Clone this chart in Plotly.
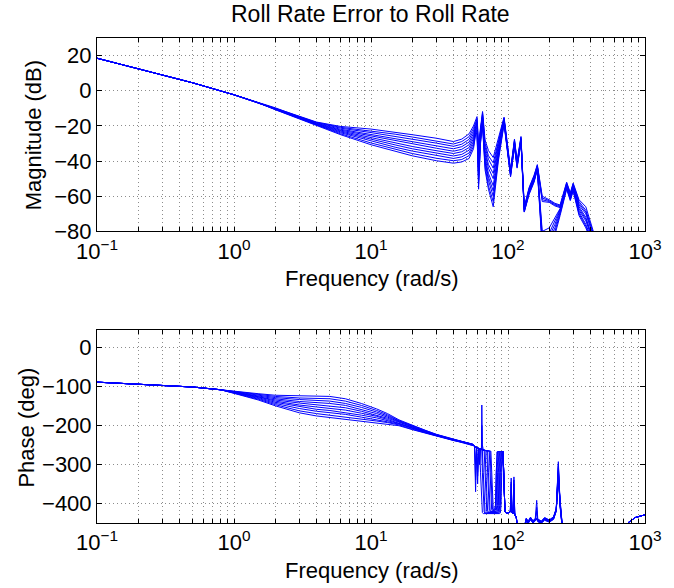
import plotly.graph_objects as go

# ---------------- data ----------------
DECADE_LABELS = ["10<sup>\u22121</sup>", "10<sup>0</sup>", "10<sup>1</sup>", "10<sup>2</sup>", "10<sup>3</sup>"]
DECADES = [0.1, 1, 10, 100, 1000]
MAG_TICKS = [-80, -60, -40, -20, 0, 20]
PH_TICKS = [-400, -300, -200, -100, 0]

# Magnitude (dB)
MAG_HEAD_F = [0.1, 0.2, 0.5, 1.0, 1.5]
MAG_HEAD = [18.5, 12.5, 4.5, -2.3, -6.8]
MAG_F = [2, 3, 4, 6, 10, 15, 20, 30, 40, 46, 52, 56,
         58, 59.4, 61, 63, 65.2, 68, 72, 78, 85, 93.6,
         99, 104.4, 111.5, 116.5, 124.4, 131.4, 142.6, 155, 163.7, 177.8,
         200, 220, 240, 268, 285, 299, 330, 370, 416, 460]
MAG = [
    [-9.6, -14.5, -17.8, -20.3, -21.8, -23.5, -25.0, -27.0, -28.9, -27.5, -24.5, -20.0,
     -17, -14.7, -30, -20, -11.8, -28, -34, -38, -27, -15,
     -30, -45, -27.5, -40, -26, -66, -55, -48, -42, -60,
     -62, -64, -65, -52, -58, -52.5, -62, -66, -79, -90],
    [-9.7, -14.7, -18.0, -20.8, -22.8, -24.7, -26.3, -28.4, -30.3, -28.9, -26.1, -21.4,
     -18, -16, -33, -21, -12.5, -30, -37, -41, -28.5, -15.5,
     -31, -45.5, -28, -40.5, -26.5, -66.5, -55.5, -48.5, -42.5, -61,
     -62.5, -64.5, -65.5, -52.5, -58.5, -53, -63, -68, -80, -91],
    [-9.9, -14.8, -18.2, -21.3, -23.8, -25.9, -27.7, -29.8, -31.6, -30.4, -27.6, -22.9,
     -19, -17, -36, -22, -13.5, -32, -39, -44, -30, -16,
     -31.5, -46, -28.5, -41, -27, -67, -56, -49, -43, -62,
     -63, -65, -66, -53, -59, -53.5, -64, -69, -81, -92],
    [-10.0, -15.0, -18.5, -21.9, -24.8, -27.2, -29.0, -31.3, -33.0, -31.8, -29.2, -24.3,
     -19.5, -18, -39, -23.5, -14.5, -34, -42, -47, -31.5, -16.5,
     -32, -46.5, -29, -41.5, -27.5, -67, -56.5, -49.5, -43, -63,
     -63.5, -65.5, -66.5, -53.5, -59.5, -54, -65, -70, -82, -93],
    [-10.1, -15.2, -18.7, -22.4, -25.8, -28.4, -30.3, -32.7, -34.4, -33.3, -30.7, -25.8,
     -20.5, -19, -42, -24.5, -15.5, -36, -44, -50, -33, -17,
     -33, -47, -29.5, -42, -27.5, -67.5, -57, -50, -43.5, -80,
     -78, -72, -67, -54, -60, -54.5, -66, -72, -83, -94],
    [-10.3, -15.3, -18.9, -22.9, -26.7, -29.6, -31.7, -34.1, -35.7, -34.7, -32.3, -27.2,
     -21.5, -20, -45, -25.5, -16.5, -38, -47, -54, -34.5, -17,
     -33.5, -47, -30, -42, -28, -68, -57, -50.5, -44, -82,
     -81, -74, -67.5, -54.5, -60.5, -55, -67, -73, -84, -95],
    [-10.4, -15.5, -19.1, -23.4, -27.7, -30.8, -33.0, -35.5, -37.1, -36.2, -33.8, -28.7,
     -22, -21, -48, -26.5, -17.5, -40, -49, -57, -36, -17.5,
     -34, -47.5, -30.5, -42.5, -28.5, -68, -57.5, -51, -44, -84,
     -83, -76, -68, -55, -61, -55.5, -68, -74, -85, -96],
    [-10.5, -15.7, -19.4, -23.9, -28.7, -32.1, -34.3, -37.0, -38.5, -37.6, -35.4, -30.1,
     -23, -22, -51, -27.5, -18, -41, -51, -60, -37, -18,
     -34.5, -48, -31, -43, -28.5, -68.5, -58, -51, -44.5, -86,
     -85, -78, -69, -55, -61.5, -56, -69, -76, -86, -97],
    [-10.7, -15.8, -19.6, -24.5, -29.7, -33.3, -35.7, -38.4, -39.8, -39.1, -36.9, -31.6,
     -24, -23, -53, -29, -19, -43, -54, -63, -38.5, -18.5,
     -35, -48.5, -31.5, -43.5, -29, -69, -58.5, -51.5, -44.5, -88,
     -86, -80, -70, -55.5, -62, -56.5, -70, -77, -87, -98],
    [-10.8, -16.0, -19.8, -25.0, -30.7, -34.5, -37.0, -39.8, -41.2, -40.5, -38.5, -33.0,
     -25, -24, -56, -30, -20, -45, -56, -66, -40, -19,
     -36, -49, -32, -44, -29.5, -69, -59, -52, -45, -90,
     -88, -82, -71, -56, -62.5, -57, -71, -78, -88, -99],
]

# Phase (deg)
PH_HEAD_F = [0.1, 0.2, 0.5, 0.8]
PH_HEAD = [-89.5, -94.5, -102, -109]
PH_MID_F = [1, 1.5, 2, 3, 4, 5, 6.5, 8.5, 11, 13.2, 16, 20, 25, 30, 40, 46, 55]
PH_MID = [
    [-113, -119, -123, -125, -125, -126, -132, -144, -158, -170, -186, -200, -213, -223, -236, -241, -248],
    [-113.5, -120.5, -126, -130, -131, -132, -138, -149, -162, -173, -188, -201, -214, -223.5, -236.5, -241, -248],
    [-114, -122, -129, -134, -136, -138, -144, -154, -166, -176, -189, -202.5, -215, -224, -236.5, -241.5, -248.5],
    [-114.5, -124, -132, -139, -142, -144, -149, -159, -170, -179, -191, -204, -216, -224.5, -237, -241.5, -248.5],
    [-115, -125.5, -135, -143, -147, -150, -155, -164, -174, -182, -192, -205, -216.5, -225, -237.5, -242, -249],
    [-115.5, -127, -138, -148, -153, -156, -161, -169, -177, -185, -194, -206, -217, -225.5, -237.5, -242, -249],
    [-116, -129, -141, -152, -159, -162, -167, -174, -181, -188, -195.5, -207, -218, -226, -238, -242.5, -249.5],
    [-116.5, -131, -144, -157, -164, -168, -172, -179, -185, -191, -197, -208.5, -218.5, -226.5, -238, -242.5, -249.5],
    [-117, -133, -147, -163, -170, -174, -178, -184, -189, -193, -199, -210, -219, -227, -238.5, -243, -250],
    [-118, -135, -150, -168, -176, -180, -184, -189, -193, -196, -201, -211, -220, -228, -239, -243, -250],
]
PH_LOOP_F = [57, 58, 59, 60, 61, 62, 63, 64, 64.4, 65, 66, 67, 68, 69, 70, 71, 72, 73, 74, 75,
             76, 77, 78, 79, 80, 81, 82, 83, 84, 85, 86, 87, 88, 89, 90, 91, 92, 93, 94, 95]
PH_LOOP = [
    [-253, -340, -256, -258, -259, -260, -320, -405, -415, -423,
     -426, -426, -426, -426, -426, -426, -426, -426, -426, -426,
     -426, -426, -426, -426, -426, -426, -426, -426, -426, -426,
     -426, -426, -424, -405, -320, -268, -267, -320, -410, -420],
    [-253, -256, -256, -330, -259, -260, -261, -262, -262, -320,
     -405, -422, -425, -425, -425, -425, -425, -425, -425, -425,
     -425, -425, -425, -425, -425, -425, -425, -425, -425, -425,
     -425, -423, -405, -320, -268, -267, -267, -320, -410, -420],
    [-253, -370, -256, -258, -259, -300, -261, -262, -262, -263,
     -320, -405, -421, -424, -424, -424, -424, -424, -424, -424,
     -424, -424, -424, -424, -424, -424, -424, -424, -424, -424,
     -422, -405, -320, -268, -267, -267, -267, -320, -410, -420],
    [-253, -256, -256, -350, -259, -260, -261, -262, -262, -263,
     -263, -264, -320, -405, -420, -423, -423, -423, -423, -423,
     -423, -423, -423, -423, -423, -423, -423, -423, -423, -421,
     -405, -320, -268, -267, -267, -267, -267, -320, -410, -420],
    [-253, -300, -256, -258, -259, -260, -261, -262, -262, -263,
     -263, -264, -264, -320, -405, -419, -422, -422, -422, -422,
     -422, -422, -422, -422, -422, -422, -422, -422, -420, -405,
     -320, -268, -267, -267, -267, -267, -267, -320, -410, -420],
    [-253, -256, -256, -258, -259, -300, -261, -262, -262, -263,
     -263, -264, -264, -265, -265, -320, -405, -418, -421, -421,
     -421, -421, -421, -421, -421, -421, -421, -419, -405, -320,
     -268, -267, -267, -267, -267, -267, -267, -320, -410, -420],
    [-253, -256, -256, -320, -259, -260, -261, -262, -262, -263,
     -263, -264, -264, -265, -265, -265, -320, -405, -417, -420,
     -420, -420, -420, -420, -420, -420, -418, -405, -320, -268,
     -267, -267, -267, -267, -267, -267, -267, -320, -410, -420],
    [-253, -256, -256, -258, -259, -260, -261, -262, -262, -263,
     -263, -264, -264, -265, -265, -265, -266, -266, -320, -405,
     -416, -419, -419, -419, -419, -417, -405, -320, -268, -267,
     -267, -267, -267, -267, -267, -267, -267, -320, -410, -420],
    [-253, -256, -256, -258, -259, -260, -261, -262, -200, -263,
     -263, -264, -264, -265, -265, -265, -266, -266, -266, -320,
     -405, -415, -418, -418, -416, -405, -320, -268, -267, -267,
     -267, -267, -267, -267, -267, -267, -267, -320, -410, -420],
    [-253, -256, -256, -258, -259, -260, -261, -262, -148, -250,
     -263, -264, -264, -265, -265, -265, -266, -266, -266, -266,
     -320, -405, -414, -417, -415, -405, -320, -268, -267, -267,
     -267, -267, -267, -267, -267, -267, -267, -320, -410, -420],
]
PH_TAIL_F = [97, 100, 104, 105.5, 107, 109, 110.5, 112, 115, 118, 125, 133, 136, 140,
             146, 152, 158, 162, 165, 175, 185, 200, 215, 225, 233, 240, 250]
PH_TAIL = [
    [-424, -425, -420, -335, -422, -425, -420, -428, -435, -470, -495, -455, -440, -448,
     -437, -446, -440, -392, -442, -447, -438, -444, -436, -415, -293, -400, -465],
    [-423, -425, -421, -420, -423, -426, -332, -429, -437, -472, -495, -458, -443, -450,
     -440, -448, -443, -440, -445, -449, -441, -446, -439, -418, -300, -405, -468],
    [-424, -424, -420, -350, -421, -424, -421, -428, -436, -468, -495, -452, -438, -446,
     -435, -444, -438, -438, -440, -445, -436, -442, -434, -412, -305, -398, -462],
    [-425, -426, -421, -421, -423, -425, -360, -429, -436, -471, -495, -460, -445, -452,
     -442, -450, -445, -410, -447, -451, -443, -448, -441, -420, -310, -408, -470],
    [-424, -425, -420, -380, -422, -425, -420, -428, -435, -470, -495, -456, -441, -449,
     -438, -447, -441, -441, -443, -448, -439, -445, -437, -416, -315, -402, -466],
    [-423, -424, -421, -422, -422, -426, -340, -429, -437, -472, -495, -454, -439, -447,
     -436, -445, -439, -439, -441, -446, -437, -443, -435, -414, -320, -399, -464],
    [-424, -425, -420, -345, -422, -425, -421, -428, -436, -469, -495, -457, -442, -450,
     -439, -448, -442, -442, -444, -449, -440, -446, -438, -417, -325, -404, -467],
    [-425, -425, -421, -420, -423, -426, -375, -429, -436, -471, -495, -459, -444, -451,
     -441, -449, -444, -420, -446, -450, -442, -447, -440, -419, -330, -406, -469],
    [-424, -424, -420, -400, -422, -425, -420, -428, -435, -470, -495, -453, -438, -446,
     -437, -445, -440, -440, -442, -447, -438, -444, -436, -415, -335, -401, -465],
    [-423, -425, -421, -421, -423, -426, -350, -429, -437, -471, -495, -456, -441, -449,
     -439, -447, -441, -441, -443, -448, -439, -445, -437, -416, -340, -403, -466],
]
PH_FAR_F = [280, 400, 600, 700, 760, 850, 1000]
PH_FAR = [-520, -560, -520, -478, -448, -436, -429]

for m in MAG:
    assert len(m) == len(MAG_F)
for a, b, c in zip(PH_MID, PH_LOOP, PH_TAIL):
    assert len(a) == len(PH_MID_F) and len(b) == len(PH_LOOP_F) and len(c) == len(PH_TAIL_F)

# ---------------- figure ----------------
BLUE = "#0000ff"
FONT = "Liberation Sans, Arial, Helvetica, sans-serif"
FS = 22

fig = go.Figure()
for k in range(len(MAG)):
    fig.add_trace(go.Scatter(x=MAG_HEAD_F + MAG_F, y=MAG_HEAD + MAG[k], mode="lines",
                             line=dict(color=BLUE, width=1), xaxis="x", yaxis="y",
                             showlegend=False, hoverinfo="skip"))
for k in range(len(PH_MID)):
    fig.add_trace(go.Scatter(x=PH_HEAD_F + PH_MID_F + PH_LOOP_F + PH_TAIL_F + PH_FAR_F,
                             y=PH_HEAD + PH_MID[k] + PH_LOOP[k] + PH_TAIL[k] + PH_FAR,
                             mode="lines", line=dict(color=BLUE, width=1),
                             xaxis="x2", yaxis="y2", showlegend=False, hoverinfo="skip"))

xt_vals, xt_text = [], []
for i, d in enumerate(DECADES):
    if i < len(DECADES) - 1:
        for m in range(1, 10):
            xt_vals.append(d * m)
            xt_text.append(DECADE_LABELS[i] if m == 1 else "")
    else:
        xt_vals.append(d)
        xt_text.append(DECADE_LABELS[i])

grid = dict(showgrid=True, gridcolor="#8c8c8c", gridwidth=1, griddash="1px,3px")
common_x = dict(type="log", range=[-1, 3], tickmode="array", tickvals=xt_vals, ticktext=xt_text,
                ticks="inside", ticklen=4, tickcolor="black", showline=True, linecolor="black",
                linewidth=1, mirror="ticks", zeroline=False,
                tickfont=dict(family=FONT, size=FS, color="black"), **grid)
common_y = dict(tickmode="array", ticks="inside", ticklen=5, tickcolor="black", showline=True,
                linecolor="black", linewidth=1, mirror="ticks", zeroline=False,
                tickfont=dict(family=FONT, size=FS, color="black"), **grid)

H = 485.0
lab_font = dict(family=FONT, size=FS, color="black")
fig.update_layout(
    width=674, height=588,
    margin=dict(l=97, r=17, t=38, b=65),
    paper_bgcolor="white", plot_bgcolor="white",
    xaxis=dict(domain=[0, 1], anchor="y", **common_x),
    yaxis=dict(domain=[1 - 193.4 / H, 1], anchor="x", range=[-80, 30],
               tickvals=MAG_TICKS, **common_y),
    xaxis2=dict(domain=[0, 1], anchor="y2", **common_x),
    yaxis2=dict(domain=[0, 193.4 / H], anchor="x2", range=[-450, 45],
                tickvals=PH_TICKS, **common_y),
    annotations=[
        dict(text="Roll Rate Error to Roll Rate", xref="paper", yref="paper",
             x=(376 - 97) / 560.0, y=(523 - 14) / H, xanchor="center", yanchor="middle",
             showarrow=False, font=dict(family=FONT, size=23, color="black")),
        dict(text="Frequency (rad/s)", xref="paper", yref="paper",
             x=(378 - 97) / 560.0, y=(523 - 278) / H, xanchor="center", yanchor="middle",
             showarrow=False, font=lab_font),
        dict(text="Frequency (rad/s)", xref="paper", yref="paper",
             x=(378 - 97) / 560.0, y=(523 - 570) / H, xanchor="center", yanchor="middle",
             showarrow=False, font=lab_font),
        dict(text="Magnitude (dB)", xref="paper", yref="paper", textangle=-90,
             x=(33 - 97) / 560.0, y=(523 - 135) / H, xanchor="center", yanchor="middle",
             showarrow=False, font=lab_font),
        dict(text="Phase (deg)", xref="paper", yref="paper", textangle=-90,
             x=(24 - 97) / 560.0, y=(523 - 428) / H, xanchor="center", yanchor="middle",
             showarrow=False, font=lab_font),
    ],
)

fig.write_html("out.html")
